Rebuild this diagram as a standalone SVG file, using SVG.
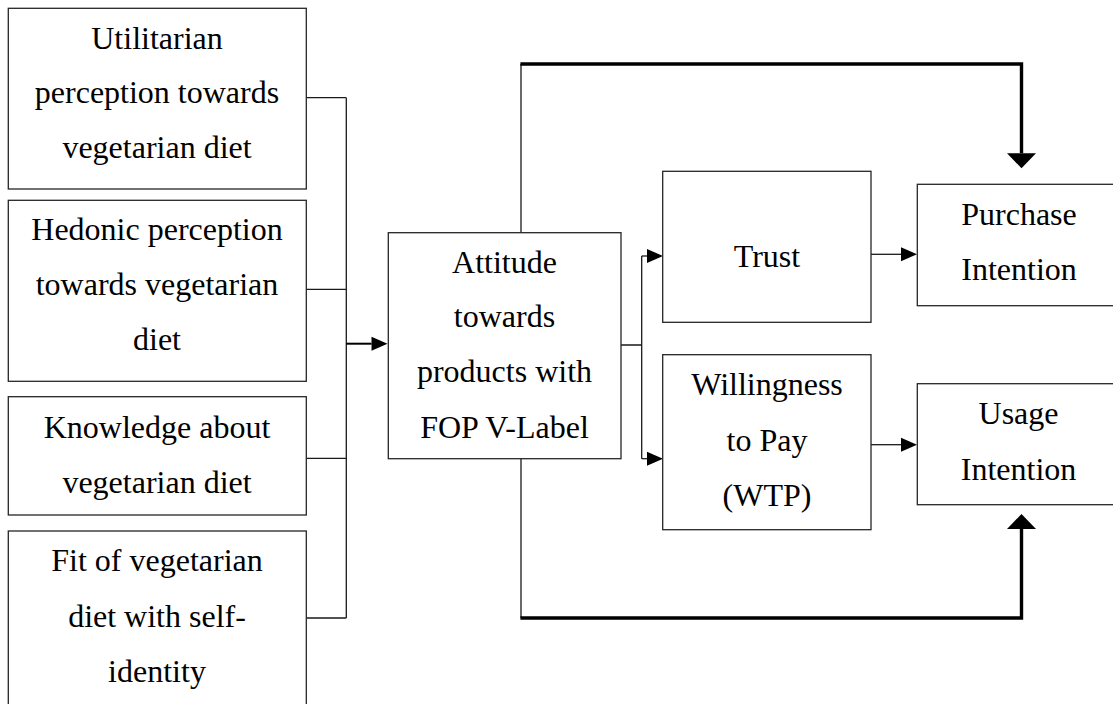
<svg xmlns="http://www.w3.org/2000/svg" width="1113" height="704" viewBox="0 0 1113 704">
  <style>
    .box { fill: #ffffff; stroke: #262626; stroke-width: 1.3; }
    .lbl { font-family: "Liberation Serif", "Times New Roman", serif; font-size: 32px; fill: #000000; text-anchor: middle; }
    .thin { fill: none; stroke: #1a1a1a; stroke-width: 1.3; }
    .mid { fill: none; stroke: #000000; stroke-width: 2; }
    .thick { fill: none; stroke: #000000; stroke-width: 3.4; stroke-linejoin: miter; }
  </style>
  <defs>
    <!-- small arrowhead: drawn forward from the end of the line -->
    <marker id="arrowSmall" markerUnits="userSpaceOnUse" markerWidth="16" markerHeight="14" refX="0" refY="7" orient="auto" overflow="visible">
      <path d="M0,0 L16,7 L0,14 Z" fill="#000000"/>
    </marker>
    <!-- large arrowhead for the thick direct paths -->
    <marker id="arrowBig" markerUnits="userSpaceOnUse" markerWidth="15" markerHeight="29" refX="0" refY="14.5" orient="auto" overflow="visible">
      <path d="M0,0 L15,14.5 L0,29 Z" fill="#000000"/>
    </marker>
  </defs>

  <rect width="1113" height="704" fill="#ffffff"/>

  <!-- connectors -->
  <g id="connectors">
    <!-- antecedents bracket into attitude -->
    <path class="thin" d="M306,97.7 H346.3 M306,289.3 H346.3 M306,458.3 H346.3 M306,618 H346.3 M346.3,97.7 V618"/>
    <path class="mid" d="M346.3,343.7 H371.5" marker-end="url(#arrowSmall)"/>

    <!-- attitude split to trust and WTP -->
    <path class="thin" d="M621,345 H641.7 M641.7,256 V458.7"/>
    <path class="thin" d="M641.7,256 H647" marker-end="url(#arrowSmall)"/>
    <path class="thin" d="M641.7,458.7 H647" marker-end="url(#arrowSmall)"/>

    <!-- mediators to outcomes -->
    <path class="thin" d="M871,254.3 H901" marker-end="url(#arrowSmall)"/>
    <path class="thin" d="M871,444.7 H901" marker-end="url(#arrowSmall)"/>

    <!-- direct path: attitude to purchase intention -->
    <path class="thin" d="M521,233 V64"/>
    <path class="thick" d="M520.4,64 H1021.5 V153.3" marker-end="url(#arrowBig)"/>

    <!-- direct path: attitude to usage intention -->
    <path class="thin" d="M521,459 V618"/>
    <path class="thick" d="M520.4,618 H1021.5 V529" marker-end="url(#arrowBig)"/>
  </g>

  <g id="node-utilitarian">
    <rect class="box" x="8.3" y="8.3" width="298" height="180.7"/>
    <text class="lbl" x="157" y="48.5">Utilitarian</text>
    <text class="lbl" x="157" y="103">perception towards</text>
    <text class="lbl" x="157" y="158">vegetarian diet</text>
  </g>

  <g id="node-hedonic">
    <rect class="box" x="8.3" y="200.3" width="298" height="181"/>
    <text class="lbl" x="157" y="240">Hedonic perception</text>
    <text class="lbl" x="157" y="295">towards vegetarian</text>
    <text class="lbl" x="157" y="350">diet</text>
  </g>

  <g id="node-knowledge">
    <rect class="box" x="8.3" y="396.7" width="298" height="118.3"/>
    <text class="lbl" x="157" y="437.5">Knowledge about</text>
    <text class="lbl" x="157" y="492.5">vegetarian diet</text>
  </g>

  <g id="node-fit">
    <rect class="box" x="8.3" y="531" width="298" height="185"/>
    <text class="lbl" x="157" y="571">Fit of vegetarian</text>
    <text class="lbl" x="157" y="626.5">diet with self-</text>
    <text class="lbl" x="157" y="682">identity</text>
  </g>

  <g id="node-attitude">
    <rect class="box" x="388.3" y="232.7" width="232.7" height="226"/>
    <text class="lbl" x="504.5" y="272.5">Attitude</text>
    <text class="lbl" x="504.5" y="327">towards</text>
    <text class="lbl" x="504.5" y="382">products with</text>
    <text class="lbl" x="504.5" y="438">FOP V-Label</text>
  </g>

  <g id="node-trust">
    <rect class="box" x="662.7" y="171.3" width="208.3" height="151"/>
    <text class="lbl" x="767" y="267">Trust</text>
  </g>

  <g id="node-wtp">
    <rect class="box" x="662.7" y="354.7" width="208.3" height="175"/>
    <text class="lbl" x="767" y="395">Willingness</text>
    <text class="lbl" x="767" y="450.5">to Pay</text>
    <text class="lbl" x="767" y="506">(WTP)</text>
  </g>

  <g id="node-purchase">
    <rect class="box" x="917.3" y="184.3" width="210" height="121.4"/>
    <text class="lbl" x="1019" y="225">Purchase</text>
    <text class="lbl" x="1019" y="280">Intention</text>
  </g>

  <g id="node-usage">
    <rect class="box" x="917.3" y="383.7" width="210" height="121"/>
    <text class="lbl" x="1018.5" y="424">Usage</text>
    <text class="lbl" x="1018.5" y="479.5">Intention</text>
  </g>
</svg>
